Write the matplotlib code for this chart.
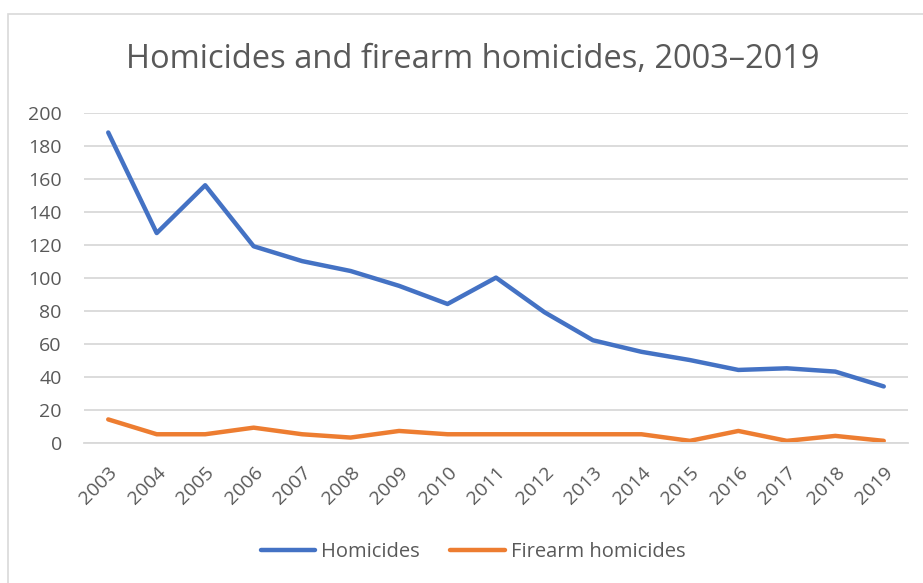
import matplotlib
matplotlib.use('Agg')
import matplotlib.pyplot as plt
from matplotlib.patches import Rectangle

years = ['2003', '2004', '2005', '2006', '2007', '2008', '2009', '2010', '2011',
         '2012', '2013', '2014', '2015', '2016', '2017', '2018', '2019']
homicides = [188, 127, 156, 119, 110, 104, 95, 84, 100, 79, 62, 55, 50, 44, 45, 43, 34]
firearm_homicides = [14, 5, 5, 9, 5, 3, 7, 5, 5, 5, 5, 5, 1, 7, 1, 4, 1]

plt.rcParams['font.family'] = ['Open Sans', 'DejaVu Sans']
grey_text = '#595959'
grid_col = '#D9D9D9'

W, H = 923, 583
fig = plt.figure(figsize=(W / 100, H / 100), dpi=100)
ax = fig.add_axes([84 / W, (H - 442.5) / H, (908 - 84) / W, (442.5 - 112.7) / H])

x = list(range(len(years)))
ax.plot(x, homicides, color='#4472C4', lw=3.2, solid_capstyle='round',
        solid_joinstyle='round', label='Homicides')
ax.plot(x, firearm_homicides, color='#ED7D31', lw=3.2, solid_capstyle='round',
        solid_joinstyle='round', label='Firearm homicides')

ax.set_xlim(-0.5, len(years) - 0.5)
ax.set_ylim(0, 200)
ax.set_yticks(range(0, 201, 20))
ax.set_xticks(x)
ax.set_xticklabels(years, rotation=45, ha='right', rotation_mode='anchor')
ax.tick_params(axis='both', length=0, labelsize=14, colors=grey_text)
ax.tick_params(axis='y', pad=16)
ax.tick_params(axis='x', pad=15)
ax.grid(axis='y', color=grid_col, lw=1.3)
ax.set_axisbelow(True)
for s in ['top', 'right', 'left']:
    ax.spines[s].set_visible(False)
ax.spines['bottom'].set_color(grid_col)
ax.spines['bottom'].set_linewidth(1.3)

fig.text(473 / W, (H - 68) / H, 'Homicides and firearm homicides, 2003\u20132019',
         ha='center', va='baseline', fontsize=23.5, color=grey_text)

fig.legend(loc='center', bbox_to_anchor=(473 / W, (H - 552) / H), ncol=2,
           frameon=False, fontsize=14.5, labelcolor=grey_text,
           handlelength=2.7, handletextpad=0.3, columnspacing=1.5)

# chart area border (clipped on the right/bottom in the original)
fig.patches.append(Rectangle((8 / W, -0.1), 2, (H - 14) / H + 0.1,
                             transform=fig.transFigure, fill=False,
                             edgecolor=grid_col, lw=1.2))

fig.savefig('out.png', dpi=100)
